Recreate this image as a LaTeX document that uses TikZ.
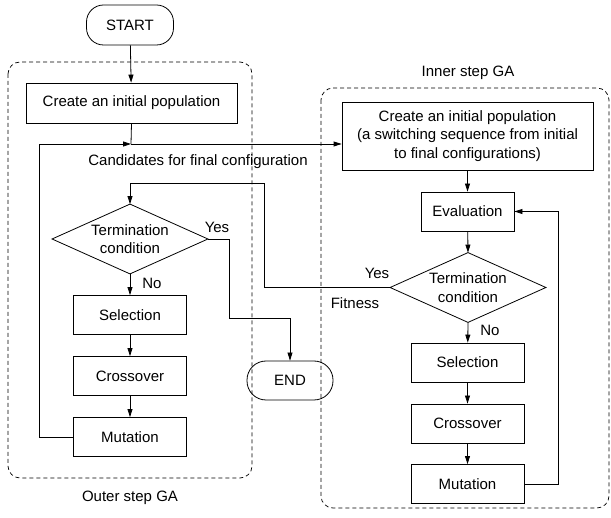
\documentclass[tikz,border=0pt]{standalone}
\usepackage{fontspec}
\setmainfont{Liberation Sans}
\usetikzlibrary{arrows.meta}
\begin{document}
\begin{tikzpicture}[x=1pt,y=-1pt,
  font=\fontsize{15}{18.5}\selectfont,
  line width=0.8pt,
  arr/.style={-{Triangle[length=8pt,width=5pt]}},
  box/.style={draw, rectangle, inner sep=2pt, minimum width=113, minimum height=39, align=center},
  term/.style={draw, rectangle, rounded corners=17pt, minimum width=87, minimum height=40},
  dec/.style={rectangle, inner sep=0pt, minimum width=155, minimum height=69, align=center},
  grp/.style={draw, dashed, dash pattern=on 4pt off 3pt, line width=0.7pt, rounded corners=12pt},
  lbl/.style={inner sep=0pt}
]
\useasboundingbox (0,0) rectangle (611,518);

% group frames
\draw[grp] (8,62) rectangle (252,478);
\draw[grp] (321,88) rectangle (609,508);
\node[lbl] (outerlbl) at (130,498) {Outer step GA};
\node[lbl] (innerlbl) at (468,73) {Inner step GA};

% outer GA
\node[term] (start) at (130,25) {START};
\node[box, minimum width=211, minimum height=40] (ocreate) at (131.5,103) {Create an initial population};
\node[dec] (odia) at (130,239) {Termination\\condition};
\draw (odia.north) -- (odia.east) -- (odia.south) -- (odia.west) -- cycle;
\node[box] (osel) at (130,315) {Selection};
\node[box] (ocross) at (130,376) {Crossover};
\node[box] (omut) at (130,437) {Mutation};
\node[term, minimum width=86, minimum height=39, rounded corners=19pt] (endn) at (290,380.5) {END};

% inner GA
\node[box, minimum width=251, minimum height=68] (icreate) at (467.5,136) {Create an initial population\\(a switching sequence from initial\\to final configurations)};
\node[box, minimum width=93] (ieval) at (467.5,211.5) {Evaluation};
\node[dec] (idia) at (468,287.5) {Termination\\condition};
\draw (idia.north) -- (idia.east) -- (idia.south) -- (idia.west) -- cycle;
\node[box] (isel) at (467.5,362.5) {Selection};
\node[box] (icross) at (467.5,423.5) {Crossover};
\node[box] (imut) at (467.5,484) {Mutation};

% helper coordinates
\coordinate (j1) at (131,144);
\coordinate (oL) at (39,144);
\coordinate (f1) at (264,183);
\coordinate (y1) at (229,318);
\coordinate (r1) at (558,0);

% outer connectors
\draw[arr] (start) -- (ocreate);
\draw (ocreate.south) -- (j1);
\draw[arr] (j1) -- (j1 -| icreate.west);
\draw[arr] (omut.west) -| (oL) -- (j1);
\draw[arr] (odia.south) -- (osel);
\draw[arr] (osel) -- (ocross);
\draw[arr] (ocross) -- (omut);
\draw[arr] (odia.east) -| (y1) -| (endn.north);

% inner connectors
\draw[arr] (icreate) -- (ieval);
\draw[arr] (ieval) -- (idia.north);
\draw[arr] (idia.south) -- (isel);
\draw[arr] (isel) -- (icross);
\draw[arr] (icross) -- (imut);
\draw[arr] (imut.east) -- (imut.east -| r1) -- (ieval.east -| r1) -- (ieval.east);
\draw[arr] (idia.west) -| (f1) -| (odia.north);

% labels
\node[lbl] (cand) at (198,162) {Candidates for final configuration};
\node[lbl] (oyes) at (217,227) {Yes};
\node[lbl] (ono) at (152,283) {No};
\node[lbl] (iyes) at (377,273) {Yes};
\node[lbl] (fit) at (355,303) {Fitness};
\node[lbl] (ino) at (490,330) {No};
\end{tikzpicture}
\end{document}
